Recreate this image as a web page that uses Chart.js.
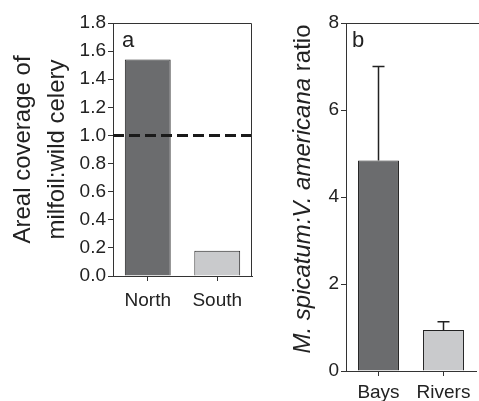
<!DOCTYPE html>
<html>
<head>
<meta charset="utf-8">
<script src="https://cdn.jsdelivr.net/npm/chart.js@4.4.1/dist/chart.umd.min.js"></script>
<style>
  html, body { margin: 0; padding: 0; background: #fff; }
  #wrap { position: relative; width: 479px; height: 401px; overflow: hidden; }
  #panelA { position: absolute; left: 0; top: 0; }
  #panelB { position: absolute; left: 260px; top: 0; }
</style>
</head>
<body>
<div id="wrap">
  <canvas id="panelA" width="260" height="401"></canvas>
  <canvas id="panelB" width="219" height="401"></canvas>
</div>
<script>
// ------------------------------
// Data.
const regions = ['North', 'South'];
const coverageRatio = [1.54, 0.18];
const parityLine = 1.0;
const coverageTicks = [0, 1.8, 0.2]; // min, max, step

const habitats = ['Bays', 'Rivers'];
const spicatumRatio = [4.84, 0.94];
const spicatumSE = [2.16, 0.19];
const ratioTicks = [0, 8, 2];

const barColors = ['#6b6c6e', '#c9cacc'];

const FONT = "'Liberation Sans', Arial, Helvetica, sans-serif";
const INK = '#222';
const LINE = '#333';

// ------------------------------
// Plugin: error bars, reference line, box edges, panel letter and axis title.
const panelDecor = {
  id: 'panelDecor',
  afterDatasetsDraw: function(chart, args, opts) {
    const ctx = chart.ctx;
    const area = chart.chartArea;
    const yScale = chart.scales.y;
    ctx.save();
    if (opts.errors) {
      const meta = chart.getDatasetMeta(0);
      const values = chart.data.datasets[0].data;
      ctx.strokeStyle = INK;
      ctx.lineWidth = 1.5;
      meta.data.forEach(function(bar, i) {
        const yTop = yScale.getPixelForValue(values[i] + opts.errors[i]);
        ctx.beginPath();
        ctx.moveTo(bar.x, bar.y);
        ctx.lineTo(bar.x, yTop);
        ctx.moveTo(bar.x - 6, yTop);
        ctx.lineTo(bar.x + 6, yTop);
        ctx.stroke();
      });
    }
    if (opts.refLine != null) {
      const y = yScale.getPixelForValue(opts.refLine);
      ctx.setLineDash([11, 5]);
      ctx.lineWidth = 3;
      ctx.strokeStyle = '#1a1a1a';
      ctx.beginPath();
      ctx.moveTo(area.left, y);
      ctx.lineTo(area.right, y);
      ctx.stroke();
      ctx.setLineDash([]);
    }
    ctx.restore();
  },
  afterDraw: function(chart, args, opts) {
    const ctx = chart.ctx;
    const area = chart.chartArea;
    ctx.save();
    // top (and right) edges of the box
    ctx.strokeStyle = LINE;
    ctx.lineWidth = 1;
    const top = Math.round(area.top) + 0.5;
    const right = Math.round(area.right) - 0.5;
    ctx.beginPath();
    ctx.moveTo(area.left, top);
    ctx.lineTo(opts.openRight ? chart.width : right, top);
    if (!opts.openRight) {
      ctx.lineTo(right, area.bottom);
    }
    ctx.stroke();

    // panel letter
    ctx.fillStyle = INK;
    ctx.font = '22px ' + FONT;
    ctx.textAlign = 'left';
    ctx.textBaseline = 'alphabetic';
    ctx.fillText(opts.letter, area.left + opts.letterDx, area.top + 24);

    // rotated y title, each line a list of [text, italic] pieces
    const cy = (area.top + area.bottom) / 2 + (opts.titleDy || 0);
    opts.titleLines.forEach(function(line) {
      let total = 0;
      line.pieces.forEach(function(p) {
        ctx.font = (p[1] ? 'italic ' : '') + '24px ' + FONT;
        total += ctx.measureText(p[0]).width;
      });
      ctx.save();
      ctx.translate(line.x, cy);
      ctx.rotate(-Math.PI / 2);
      let x = -total / 2;
      line.pieces.forEach(function(p) {
        ctx.font = (p[1] ? 'italic ' : '') + '24px ' + FONT;
        ctx.fillText(p[0], x, 0);
        x += ctx.measureText(p[0]).width;
      });
      ctx.restore();
    });
    ctx.restore();
  }
};

// ------------------------------
// Shared axis builders.
function yAxis(range, width, digits) {
  return {
    min: range[0],
    max: range[1],
    ticks: {
      stepSize: range[2],
      color: INK,
      padding: 2,
      font: { size: 19, family: FONT },
      callback: function(v) { return Number(v).toFixed(digits); }
    },
    grid: { drawOnChartArea: false, drawTicks: true, tickLength: 5, tickColor: LINE },
    border: { display: true, color: LINE, width: 1 },
    afterFit: function(s) { s.width = width; }
  };
}

function xAxis(height, pad) {
  return {
    ticks: { color: INK, padding: pad, font: { size: 19, family: FONT } },
    grid: { drawOnChartArea: false, offset: false, drawTicks: true, tickLength: 5, tickColor: LINE },
    border: { display: true, color: LINE, width: 1 },
    afterFit: function(s) { s.height = height; }
  };
}

// ------------------------------
// Panel a: areal coverage ratio.
new Chart(document.getElementById('panelA').getContext('2d'), {
  type: 'bar',
  data: {
    labels: regions,
    datasets: [{
      data: coverageRatio,
      backgroundColor: barColors,
      borderColor: '#222',
      borderWidth: 1,
      barPercentage: 0.66,
      categoryPercentage: 1
    }]
  },
  options: {
    responsive: false,
    animation: false,
    devicePixelRatio: 1,
    layout: { padding: { left: 0, top: 23, right: 8, bottom: 0 } },
    scales: {
      x: xAxis(125, 8),
      y: yAxis(coverageTicks, 113, 1)
    },
    plugins: {
      legend: { display: false },
      tooltip: { enabled: false },
      panelDecor: {
        letter: 'a',
        letterDx: 9,
        refLine: parityLine,
        titleLines: [
          { x: 30, pieces: [['Areal coverage of', false]] },
          { x: 64, pieces: [['milfoil:wild celery', false]] }
        ]
      }
    }
  },
  plugins: [panelDecor]
});

// ------------------------------
// Panel b: M. spicatum : V. americana ratio.
new Chart(document.getElementById('panelB').getContext('2d'), {
  type: 'bar',
  data: {
    labels: habitats,
    datasets: [{
      data: spicatumRatio,
      backgroundColor: barColors,
      borderColor: '#222',
      borderWidth: 1,
      barPercentage: 0.63,
      categoryPercentage: 1
    }]
  },
  options: {
    responsive: false,
    animation: false,
    devicePixelRatio: 1,
    layout: { padding: { left: 0, top: 23, right: 3, bottom: 0 } },
    scales: {
      x: xAxis(30, 5),
      y: yAxis(ratioTicks, 86, 0)
    },
    plugins: {
      legend: { display: false },
      tooltip: { enabled: false },
      panelDecor: {
        letter: 'b',
        letterDx: 6,
        openRight: true,
        errors: spicatumSE,
        titleDy: -8,
        titleLines: [
          { x: 50, pieces: [['M. spicatum:V. americana', true], [' ratio', false]] }
        ]
      }
    }
  },
  plugins: [panelDecor]
});
</script>
</body>
</html>
